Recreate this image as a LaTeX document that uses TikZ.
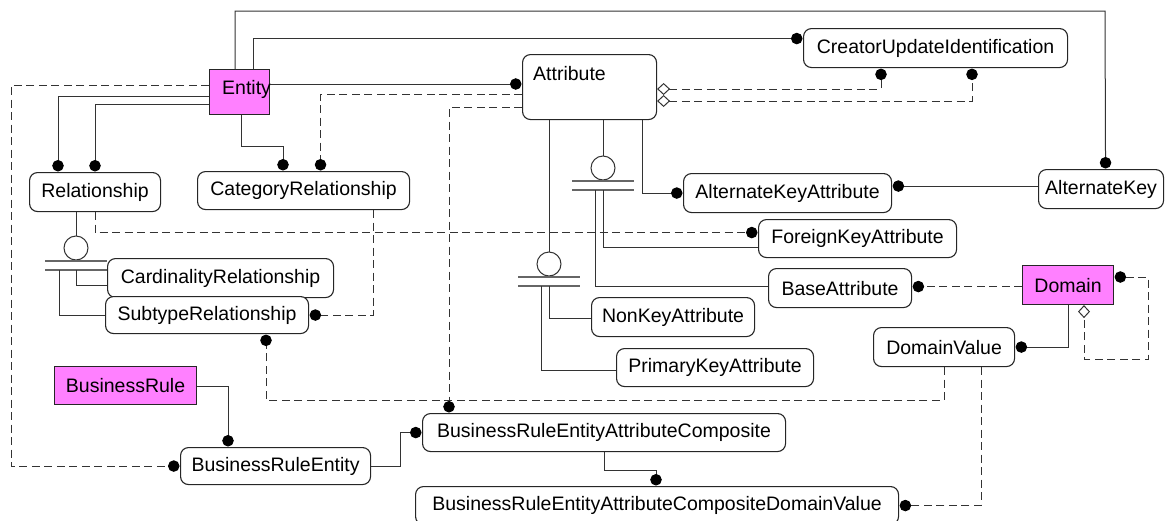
\documentclass[tikz,border=0pt]{standalone}
\usepackage{fontspec}
\setmainfont{Liberation Sans}
\usetikzlibrary{arrows.meta}
\definecolor{entpink}{RGB}{255,128,255}
\begin{document}
\begin{tikzpicture}[x=1pt,y=-1pt,
  lbl/.style={font=\fontsize{19.5}{23}\selectfont},
  rbox/.style={draw=black!85, line width=1.1pt, rounded corners=8pt, fill=white,
               anchor=north west, inner sep=0pt, lbl},
  ebox/.style={draw=black!85, line width=1.1pt, fill=entpink,
               anchor=north west, inner sep=0pt, lbl},
  toplbl/.style={anchor=base west, inner sep=0pt, lbl},
  ln/.style={draw=black!80, line width=1pt},
  dln/.style={ln, dash pattern=on 8pt off 4.5pt},
  bar/.style={draw=black!60, line width=1.3pt},
  gen/.style={circle, draw=black!80, line width=1pt, minimum size=24pt,
              inner sep=0pt, fill=white},
  blob/.tip={Circle[length=11.5pt, color=black, fill=black, sep=0.5pt]},
  odia/.tip={Diamond[length=13pt, width=12pt, fill=white]},
]
\useasboundingbox (0,0) rectangle (1167,520);

% ---------- entities ----------
\node[ebox, minimum width=60pt, minimum height=45pt,
  label={[toplbl, xshift=13pt, yshift=-25.3pt]north west:Entity}] (entity) at (209,69) {};
\node[rbox, minimum width=134pt, minimum height=65pt,
  label={[toplbl, xshift=11pt, yshift=-26pt]north west:Attribute}] (attribute) at (522,54) {};
\node[rbox, minimum width=264pt, minimum height=39pt] (cui) at (803,28) {CreatorUpdateIdentification};
\node[rbox, minimum width=131pt, minimum height=39pt] (rel) at (29,172) {Relationship};
\node[rbox, minimum width=212pt, minimum height=38pt] (catrel) at (197,171) {CategoryRelationship};
\node[rbox, minimum width=208pt, minimum height=39pt] (aka) at (683,173) {AlternateKeyAttribute};
\node[rbox, minimum width=125pt, minimum height=39pt] (ak) at (1038,169) {AlternateKey};
\node[rbox, minimum width=198pt, minimum height=38pt] (fka) at (758,219) {ForeignKeyAttribute};
\node[rbox, minimum width=143pt, minimum height=39pt] (ba) at (768,268) {BaseAttribute};
\node[ebox, minimum width=91pt, minimum height=39pt] (domain) at (1022,265) {Domain};
\node[rbox, minimum width=226pt, minimum height=39pt] (cardrel) at (107,258) {CardinalityRelationship};
\node[rbox, minimum width=203pt, minimum height=37pt] (subrel) at (105,296) {SubtypeRelationship};
\node[rbox, minimum width=163pt, minimum height=39pt] (nka) at (591,297) {NonKeyAttribute};
\node[rbox, minimum width=141pt, minimum height=39pt] (dv) at (873,327) {DomainValue};
\node[rbox, minimum width=197pt, minimum height=38pt] (pka) at (616,348) {PrimaryKeyAttribute};
\node[ebox, minimum width=142pt, minimum height=38pt] (br) at (54,366) {BusinessRule};
\node[rbox, minimum width=363pt, minimum height=38pt] (breac) at (422,413) {BusinessRuleEntityAttributeComposite};
\node[rbox, minimum width=190pt, minimum height=37pt] (bre) at (180,447) {BusinessRuleEntity};
\node[rbox, minimum width=483pt, minimum height=38pt] (breacdv) at (415,486) {BusinessRuleEntityAttributeCompositeDomainValue};

% ---------- subtype symbols ----------
\node[gen] (gen1) at (76,248) {};
\node[gen] (gen2) at (549,264) {};
\node[gen] (gen3) at (603,168) {};
\foreach \g in {gen1,gen2,gen3} {
  \draw[bar] ([shift={(-31,13)}]\g.center) -- ++(62,0);
  \draw[bar] ([shift={(-31,22)}]\g.center) -- ++(62,0);
}
\draw[ln] (rel.south -| gen1.north) -- (gen1.north);
\draw[ln] (attribute.south -| gen2.north) -- (gen2.north);
\draw[ln] (attribute.south -| gen3.north) -- (gen3.north);
\draw[ln] ([shift={(0,22)}]gen1.center) |- ([shift={(0,7.5)}]cardrel.west);
\draw[ln] ([shift={(-17,22)}]gen1.center) |- (subrel.west);
\draw[ln] ([shift={(0,22)}]gen2.center) |- ([shift={(0,1.5)}]nka.west);
\draw[ln] ([shift={(-8,22)}]gen2.center) |- ([shift={(0,3)}]pka.west);
\draw[ln] ([shift={(0,22)}]gen3.center) |- ([shift={(0,9)}]fka.west);
\draw[ln] ([shift={(-8,22)}]gen3.center) |- ([shift={(0,-1.5)}]ba.west);

% ---------- solid relationships ----------
\draw[ln, -blob] ([shift={(26,0)}]entity.north west) |- (1105,11) -- ([shift={(4.5,0)}]ak.north);
\draw[ln, -blob] ([shift={(44,0)}]entity.north west) |- ([shift={(0,-9.5)}]cui.west);
\draw[ln, -blob] ([shift={(0,15)}]entity.north east) -- ([shift={(0,30)}]attribute.north west);
\draw[ln, -blob] ([shift={(0,27)}]entity.north west) -| ([shift={(29,0)}]rel.north west);
\draw[ln, -blob] ([shift={(0,35)}]entity.north west) -| ([shift={(66,0)}]rel.north west);
\draw[ln, -blob] ([shift={(32,0)}]entity.south west) -- ++(0,31) -| ([shift={(86,0)}]catrel.north west);
\draw[ln, -blob] ([shift={(120,0)}]attribute.south west) |- (aka.west);
\draw[ln, -blob] ([shift={(0,-3)}]ak.west) -- ([shift={(0,-7)}]aka.east);
\draw[ln, -blob] ([shift={(46,0)}]domain.south west) |- (dv.east);
\draw[ln, -blob] ([shift={(0,20)}]br.north east) -| ([shift={(48,0)}]bre.north west);
\draw[ln, -blob] (bre.east) -- ++(29,0) |- (breac.west);
\draw[ln, -blob] ([shift={(182,0)}]breac.south west) -- ++(0,18) -| ([shift={(241,0)}]breacdv.north west);

% ---------- dashed relationships ----------
\draw[dln, -blob] ([shift={(0,40)}]attribute.north west) -| ([shift={(17,0)}]catrel.north);
\draw[dln, -blob] ([shift={(0,53)}]attribute.north west) -| ([shift={(27,0)}]breac.north west);
\draw[dln, -blob] ([shift={(0,16)}]entity.north west) -- ++(-198,0) |- (bre.west);
\draw[dln, -blob] ([shift={(66,0)}]rel.south west) |- ([shift={(0,-6)}]fka.west);
\draw[dln, -blob] ([shift={(-37,0)}]catrel.south east) |- (subrel.east);
\draw[dln, -blob] ([shift={(71,0)}]dv.south west) -- ++(0,33) -| ([shift={(161,0)}]subrel.south west);
\draw[dln, -blob] ([shift={(108,0)}]dv.south west) |- (breacdv.east);
\draw[dln, odia-blob] ([shift={(0,35)}]attribute.north east) -| ([shift={(78,0)}]cui.south west);
\draw[dln, odia-blob] ([shift={(0,47)}]attribute.north east) -| ([shift={(169,0)}]cui.south west);
\draw[dln, -blob] ([shift={(0,1.5)}]domain.west) -- ([shift={(0,-1.5)}]ba.east);
\draw[dln, blob-odia] ([shift={(0,12)}]domain.north east) -- ++(34,0) |- (1084,359) -- ([shift={(62,0)}]domain.south west);
\end{tikzpicture}
\end{document}
